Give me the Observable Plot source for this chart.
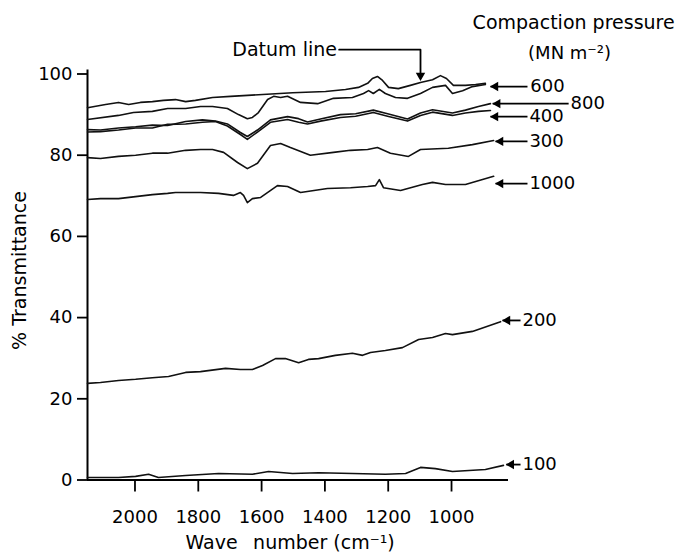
<!DOCTYPE html>
<html><head><meta charset="utf-8">
<script src="https://cdn.jsdelivr.net/npm/d3@7"></script>
<script src="https://cdn.jsdelivr.net/npm/@observablehq/plot@0.6"></script>
<style>body{margin:0;background:#fff}</style>
</head><body><div id="chart"></div>
<script>
// Curves: wave number (cm-1) and % transmittance
const datumWave = [2150,2093,2052,2020,1983,1945,1910,1872,1840,1809,1755,1698,1610,1502,1398,1335,1294,1265,1250,1234,1218,1199,1168,1130,1098,1060,1035,1016,994,956,924,893];
const datumT    = [91.7,92.5,93.0,92.5,93.0,93.2,93.5,93.7,93.2,93.5,94.2,94.5,94.9,95.4,95.7,96.2,96.7,97.7,98.9,99.4,98.4,96.7,96.4,97.2,97.9,98.6,99.6,98.9,97.2,97.2,97.4,97.7];

const p600Wave = [2150,2052,2005,1945,1897,1840,1793,1755,1708,1673,1645,1629,1610,1581,1562,1540,1518,1477,1423,1373,1313,1278,1262,1247,1228,1209,1177,1139,1098,1060,1019,997,965,934,893];
const p600T    = [88.8,89.8,90.5,90.8,91.5,91.5,92.0,92.0,91.5,90.0,89.0,89.3,90.5,93.7,94.5,94.2,94.5,93.0,92.7,94.0,94.2,95.2,95.9,95.2,96.2,95.2,94.2,94.0,95.2,96.7,97.2,95.2,95.9,96.9,97.4];

const p800Wave = [2150,2109,2052,1998,1945,1897,1840,1787,1746,1708,1667,1645,1613,1572,1518,1483,1455,1414,1351,1303,1247,1202,1139,1098,1060,997,956,915,877];
const p800T    = [86.3,86.2,86.7,87.0,87.4,87.3,88.3,88.7,88.4,87.7,85.6,84.6,86.2,88.7,89.5,89.0,88.2,88.9,90.0,90.2,91.1,90.2,88.9,90.4,91.2,90.4,91.1,92.0,92.7];

const p400Wave = [2150,2109,2052,1998,1945,1897,1840,1787,1746,1708,1667,1645,1613,1572,1518,1483,1455,1414,1351,1303,1247,1202,1139,1098,1060,997,956,915,877];
const p400T    = [85.7,85.8,86.2,86.7,86.7,87.6,87.7,88.1,88.3,87.2,85.1,83.9,85.7,88.1,88.8,88.1,87.7,88.4,89.3,89.6,90.5,89.6,88.4,89.8,90.6,89.8,90.4,90.8,91.0];

const p300Wave = [2150,2109,2052,1998,1945,1897,1840,1793,1755,1720,1676,1645,1613,1572,1540,1509,1446,1373,1319,1265,1234,1193,1136,1098,1010,934,867];
const p300T    = [79.4,79.2,79.7,80.0,80.5,80.5,81.2,81.4,81.4,80.7,78.2,76.7,78.0,82.4,82.9,81.9,80.0,80.7,81.2,81.4,81.9,80.5,79.7,81.4,81.7,82.6,83.6];

const p1000Wave = [2150,2109,2052,1945,1897,1872,1793,1736,1689,1667,1657,1645,1629,1603,1550,1518,1477,1392,1319,1265,1240,1228,1215,1161,1092,1060,1019,956,867];
const p1000T    = [69.1,69.3,69.3,70.3,70.6,70.8,70.8,70.6,70.1,70.8,70.1,68.3,69.3,69.6,72.5,72.3,70.8,71.8,72.0,72.3,72.5,74.0,72.0,71.3,72.8,73.3,72.8,72.8,74.8];

const p200Wave = [2150,2109,2052,1998,1945,1894,1840,1793,1714,1667,1629,1597,1556,1525,1483,1452,1420,1367,1313,1281,1256,1209,1155,1104,1060,1019,997,934,845];
const p200T    = [23.8,24.0,24.5,24.8,25.2,25.5,26.5,26.7,27.5,27.2,27.2,28.2,29.9,29.9,28.9,29.7,29.9,30.7,31.2,30.7,31.4,31.9,32.6,34.6,35.1,36.1,35.8,36.6,39.0];

const p100Wave = [2150,2109,2052,1998,1957,1926,1840,1736,1629,1578,1502,1420,1313,1209,1145,1098,1051,997,893,836];
const p100T    = [0.6,0.6,0.6,0.9,1.4,0.6,1.1,1.6,1.4,2.1,1.6,1.8,1.6,1.4,1.6,3.1,2.8,2.1,2.6,3.6];

// Right-hand labels (compaction pressure, MN m-2)
const labelText = ["600","800","400","300","1000","200","100"];
const labelT    = [96.9, 92.7, 89.5, 83.4, 73.0, 39.3, 3.8];
const labelTip  = [877, 870, 877, 861, 861, 839, 827];
const labelTail = [760, 630, 760, 760, 760, 782, 782];
const labelTextWave = [751, 624, 754, 754, 754, 776, 776];

const xTicks = [2000,1800,1600,1400,1200,1000];
const yTicks = [0,20,40,60,80,100];

const series = [
  {name:"datum", wave:datumWave, t:datumT},
  {name:"600", wave:p600Wave, t:p600T},
  {name:"800", wave:p800Wave, t:p800T},
  {name:"400", wave:p400Wave, t:p400T},
  {name:"300", wave:p300Wave, t:p300T},
  {name:"1000", wave:p1000Wave, t:p1000T},
  {name:"200", wave:p200Wave, t:p200T},
  {name:"100", wave:p100Wave, t:p100T}
];
const rows = series.flatMap(s => s.wave.map((w,i) => ({series:s.name, wave:w, t:s.t[i]})));
const labels = labelText.map((txt,i) => ({txt, t:labelT[i], tip:labelTip[i], tail:labelTail[i], tx:labelTextWave[i]}));

// Datum line annotation (in data units)
const datumLabel = [{txt:"Datum line", wave:1362, t:106.0}];
const datumPath = [{wave:1355, t:106.0},{wave:1098, t:106.0},{wave:1098, t:99.0}];
const datumTip = [{wave:1098, t:98.4}];

const titleMain = [{txt:"Compaction pressure", wave:295, t:112.7}];
const titleUnit = [{txt:"(MN m\u207B\u00B2)", wave:627, t:105.0}];

const chart = Plot.plot({
  width: 677, height: 555,
  marginLeft: 87, marginRight: 169, marginTop: 73.5, marginBottom: 75.5,
  style: {fontFamily: "DejaVu Sans", fontSize: "18px", background: "white", color: "black"},
  x: {domain: [2150, 820]},
  y: {domain: [0, 100]},
  marks: [
    Plot.axisX({ticks: xTicks, tickSize: 12, tickPadding: 18, tickFormat: d => String(d), label: null, strokeWidth: 1.8, fontSize: 18}),
    Plot.axisY({ticks: yTicks, tickSize: 10, tickPadding: 5, tickFormat: d => String(d), label: null, strokeWidth: 1.8, fontSize: 18}),
    Plot.ruleY([0], {x1: 2150, x2: 820, stroke: "black", strokeWidth: 2}),
    Plot.ruleX([2150], {y1: 0, y2: 101, stroke: "black", strokeWidth: 2}),
    Plot.line(rows, {x: "wave", y: "t", z: "series", stroke: "#111", strokeWidth: 1.6, strokeLinejoin: "round", curve: "linear"}),
    // label arrows
    Plot.link(labels, {x1: "tail", x2: "tip", y1: "t", y2: "t", stroke: "black", strokeWidth: 1.8}),
    Plot.dot(labels, {x: "tip", y: "t", symbol: "triangle", r: 3.5, fill: "black", rotate: -90, dx: 5}),
    Plot.text(labels, {x: "tx", y: "t", text: "txt", textAnchor: "start", fontSize: 18}),
    // datum line annotation
    Plot.line(datumPath, {x: "wave", y: "t", stroke: "black", strokeWidth: 1.8}),
    Plot.dot(datumTip, {x: "wave", y: "t", symbol: "triangle", r: 3.5, fill: "black", rotate: 180, dy: -5}),
    Plot.text(datumLabel, {x: "wave", y: "t", text: "txt", textAnchor: "end", fontSize: 19}),
    // titles
    Plot.text(titleMain, {x: "wave", y: "t", text: "txt", textAnchor: "end", fontSize: 19}),
    Plot.text(titleUnit, {x: "wave", y: "t", text: "txt", textAnchor: "middle", fontSize: 18}),
    Plot.text([{txt: "% Transmittance", wave: 2362, t: 51.6}], {x: "wave", y: "t", text: "txt", rotate: -90, fontSize: 19}),
    Plot.text([{txt: "Wave\u2002 number (cm\u207B\u00B9)", wave: 1510, t: -15.5}], {x: "wave", y: "t", text: "txt", fontSize: 19})
  ]
});
document.getElementById("chart").appendChild(chart);
</script>
</body></html>
